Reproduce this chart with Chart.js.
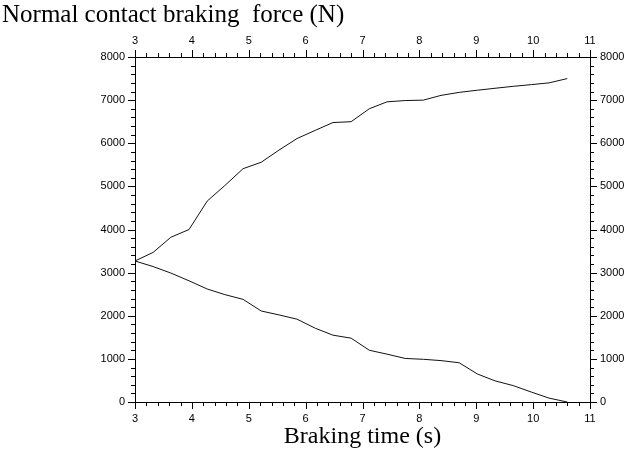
<!DOCTYPE html>
<html>
<head>
<meta charset="utf-8">
<script src="https://cdn.jsdelivr.net/npm/chart.js@4/dist/chart.umd.min.js"></script>
<style>
html,body{margin:0;padding:0;background:#fff;}
#wrap{width:633px;height:450px;}
</style>
</head>
<body>
<div id="wrap"><canvas id="c" width="633" height="450"></canvas></div>
<script>
// ---- data ----
const brakingTime = [3.00, 3.32, 3.63, 3.95, 4.27, 4.58, 4.90, 5.22, 5.53, 5.85, 6.17, 6.48, 6.80,
                     7.12, 7.43, 7.75, 8.07, 8.38, 8.70, 9.02, 9.33, 9.65, 9.97, 10.28, 10.60];
const upperForce = [3270, 3470, 3820, 4000, 4660, 5020, 5410, 5560, 5840, 6110, 6300, 6480, 6500,
                    6800, 6960, 6990, 7000, 7110, 7180, 7230, 7275, 7320, 7360, 7400, 7500];
const lowerForce = [3270, 3140, 2990, 2810, 2620, 2490, 2380, 2110, 2020, 1920, 1710, 1550, 1480,
                    1200, 1110, 1010, 990, 960, 910, 650, 490, 380, 230, 90, 0];
const xTickLabels = [3, 4, 5, 6, 7, 8, 9, 10, 11];
const yTickLabels = [0, 1000, 2000, 3000, 4000, 5000, 6000, 7000, 8000];
const xMinorPerMajor = 5;
const yMinorPerMajor = 5;
const chartTitle = 'Normal contact braking  force (N)';
const xAxisTitle = 'Braking time (s)';

// ---- build chart ----
const toPoints = (xs, ys) => xs.map((x, i) => ({x: x, y: ys[i]}));

const MAJOR_LEN = 7, MINOR_LEN = 4;
const tickPlugin = {
  id: 'outerTicks',
  afterDraw(chart) {
    const ctx = chart.ctx;
    const ca = chart.chartArea;
    ctx.save();
    ctx.strokeStyle = '#000';
    ctx.lineWidth = 1;
    ctx.beginPath();
    ['x', 'x2'].forEach(id => {
      const s = chart.scales[id];
      const top = s.position === 'top';
      const y0 = top ? Math.round(ca.top) : Math.round(ca.bottom);
      for (let k = 0; k < xTickLabels.length; k++) {
        const a = xTickLabels[k];
        const b = xTickLabels[k + 1];
        const steps = (b === undefined) ? 1 : xMinorPerMajor;
        for (let m = 0; m < steps; m++) {
          const v = (b === undefined) ? a : a + (b - a) * m / xMinorPerMajor;
          const px = Math.round(s.getPixelForValue(v)) + 0.5;
          const len = m === 0 ? MAJOR_LEN : MINOR_LEN;
          ctx.moveTo(px, y0);
          ctx.lineTo(px, top ? y0 - len : y0 + len);
        }
      }
    });
    ['y', 'y2'].forEach(id => {
      const s = chart.scales[id];
      const right = s.position === 'right';
      const x0 = right ? Math.round(ca.right) : Math.round(ca.left);
      for (let k = 0; k < yTickLabels.length; k++) {
        const a = yTickLabels[k];
        const b = yTickLabels[k + 1];
        const steps = (b === undefined) ? 1 : yMinorPerMajor;
        for (let m = 0; m < steps; m++) {
          const v = (b === undefined) ? a : a + (b - a) * m / yMinorPerMajor;
          const py = Math.round(s.getPixelForValue(v)) + 0.5;
          const len = m === 0 ? MAJOR_LEN : MINOR_LEN;
          ctx.moveTo(x0, py);
          ctx.lineTo(right ? x0 + len : x0 - len, py);
        }
      }
    });
    ctx.stroke();
    ctx.restore();
  }
};

const tickFont = {family: '"Liberation Sans", Arial, sans-serif', size: 11};
const plainLabel = v => String(v);
const xCommon = {
  type: 'linear',
  min: xTickLabels[0],
  max: xTickLabels[xTickLabels.length - 1],
  grid: {display: false},
  border: {display: true, color: '#000', width: 1},
  ticks: {stepSize: 1, color: '#000', font: tickFont, padding: 2, maxRotation: 0, autoSkip: false, callback: plainLabel}
};
const yCommon = {
  type: 'linear',
  min: yTickLabels[0],
  max: yTickLabels[yTickLabels.length - 1],
  grid: {display: false},
  border: {display: true, color: '#000', width: 1},
  ticks: {stepSize: 1000, color: '#000', font: tickFont, padding: 2, autoSkip: false, callback: plainLabel}
};

new Chart(document.getElementById('c'), {
  type: 'line',
  data: {
    datasets: [
      {label: 'upper', data: toPoints(brakingTime, upperForce), borderColor: '#111', borderWidth: 1,
       pointRadius: 0, tension: 0, fill: false, xAxisID: 'x', yAxisID: 'y'},
      {label: 'lower', data: toPoints(brakingTime, lowerForce), borderColor: '#111', borderWidth: 1,
       pointRadius: 0, tension: 0, fill: false, xAxisID: 'x', yAxisID: 'y'}
    ]
  },
  options: {
    responsive: false,
    devicePixelRatio: 1,
    animation: false,
    layout: {padding: {left: 2, right: 0, top: 0, bottom: 0}},
    plugins: {
      legend: {display: false},
      tooltip: {enabled: false},
      title: {
        display: true,
        text: chartTitle,
        align: 'start',
        color: '#000',
        font: {family: '"Liberation Serif", "Times New Roman", serif', size: 25, weight: 'normal', lineHeight: 1.2},
        padding: {top: 0, bottom: 0}
      }
    },
    scales: {
      x: Object.assign({}, xCommon, {
        position: 'bottom',
        title: {display: true, text: xAxisTitle, color: '#000',
                font: {family: '"Liberation Serif", "Times New Roman", serif', size: 24, lineHeight: 1.1},
                padding: {top: 0, bottom: 0}},
        afterFit: s => { s.height = 48; }
      }),
      x2: Object.assign({}, xCommon, {
        position: 'top', axis: 'x',
        ticks: Object.assign({}, xCommon.ticks, {padding: 1}),
        afterFit: s => { s.height = 27; }
      }),
      y: Object.assign({}, yCommon, {
        position: 'left',
        afterFit: s => { s.width = 133; }
      }),
      y2: Object.assign({}, yCommon, {
        position: 'right', axis: 'y',
        afterFit: s => { s.width = 43; }
      })
    }
  },
  plugins: [tickPlugin]
});
</script>
</body>
</html>
